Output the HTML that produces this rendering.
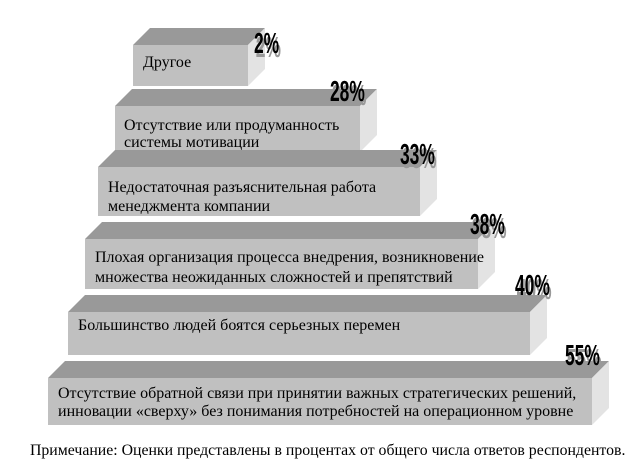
<!DOCTYPE html><html><head><meta charset="utf-8"><style>body{margin:0;background:#fff}svg{display:block}
.t{font-family:"Liberation Serif",serif;font-size:16px;fill:#000}
.p{font-family:"Liberation Sans Narrow","Liberation Sans",sans-serif;font-weight:bold;font-size:29px;fill:#000}
.s{font-family:"Liberation Sans Narrow","Liberation Sans",sans-serif;font-weight:bold;font-size:29px;fill:#999}
</style></head><body>
<svg width="642" height="465" viewBox="0 0 642 465">
<g stroke="none">
<polygon points="133,45 150,28 265,28 248,45" fill="#999"/><rect x="133" y="45" width="115" height="41" fill="#c0c0c0"/><polygon points="248,45 265,28 265,69 248,86" fill="#e3e3e3"/>
<polygon points="115,106 132,89 377,89 360,106" fill="#999"/><rect x="115" y="106" width="245" height="46" fill="#c0c0c0"/><polygon points="360,106 377,89 377,135 360,152" fill="#e3e3e3"/>
<polygon points="98,167 115,150 437,150 420,167" fill="#999"/><rect x="98" y="167" width="322" height="49" fill="#c0c0c0"/><polygon points="420,167 437,150 437,199 420,216" fill="#e3e3e3"/>
<polygon points="85,239 102,222 495,222 478,239" fill="#999"/><rect x="85" y="239" width="393" height="50" fill="#c0c0c0"/><polygon points="478,239 495,222 495,272 478,289" fill="#e3e3e3"/>
<polygon points="68,312 85,295 547,295 530,312" fill="#999"/><rect x="68" y="312" width="462" height="43" fill="#c0c0c0"/><polygon points="530,312 547,295 547,338 530,355" fill="#e3e3e3"/>
<polygon points="48,378 65,361 609,361 592,378" fill="#999"/><rect x="48" y="378" width="544" height="47" fill="#c0c0c0"/><polygon points="592,378 609,361 609,408 592,425" fill="#e3e3e3"/>
</g>
<text class="t" x="143" y="67">Другое</text>
<text class="t" x="124" y="130">Отсутствие или продуманность</text>
<text class="t" x="124" y="147">системы мотивации</text>
<text class="t" x="108" y="192">Недостаточная разъяснительная работа</text>
<text class="t" x="108" y="211">менеджмента компании</text>
<text class="t" x="95" y="262">Плохая организация процесса внедрения, возникновение</text>
<text class="t" x="95" y="282">множества неожиданных сложностей и препятствий</text>
<text class="t" x="78" y="330">Большинство людей боятся серьезных перемен</text>
<text class="t" x="58" y="398">Отсутствие обратной связи при принятии  важных стратегических решений,</text>
<text class="t" x="58" y="416">инновации «сверху» без понимания потребностей на операционном уровне</text>
<g>
<text class="s" x="254" y="55" transform="translate(254,0) scale(0.6,1) translate(-254,0)" dx="3" dy="2">2%</text>
<text class="p" x="254" y="53" transform="translate(254,0) scale(0.6,1) translate(-254,0)">2%</text>
<text class="s" x="330" y="103" transform="translate(330,0) scale(0.6,1) translate(-330,0)" dx="3" dy="2">28%</text>
<text class="p" x="330" y="101" transform="translate(330,0) scale(0.6,1) translate(-330,0)">28%</text>
<text class="s" x="400" y="166" transform="translate(400,0) scale(0.6,1) translate(-400,0)" dx="3" dy="2">33%</text>
<text class="p" x="400" y="164" transform="translate(400,0) scale(0.6,1) translate(-400,0)">33%</text>
<text class="s" x="470" y="236" transform="translate(470,0) scale(0.6,1) translate(-470,0)" dx="3" dy="2">38%</text>
<text class="p" x="470" y="234" transform="translate(470,0) scale(0.6,1) translate(-470,0)">38%</text>
<text class="s" x="515" y="297" transform="translate(515,0) scale(0.6,1) translate(-515,0)" dx="3" dy="2">40%</text>
<text class="p" x="515" y="295" transform="translate(515,0) scale(0.6,1) translate(-515,0)">40%</text>
<text class="s" x="565" y="367" transform="translate(565,0) scale(0.6,1) translate(-565,0)" dx="3" dy="2">55%</text>
<text class="p" x="565" y="365" transform="translate(565,0) scale(0.6,1) translate(-565,0)">55%</text>
</g>
<text class="t" x="30" y="455" style="font-size:15.8px">Примечание: Оценки представлены в процентах от общего числа ответов респондентов.</text>
</svg></body></html>
